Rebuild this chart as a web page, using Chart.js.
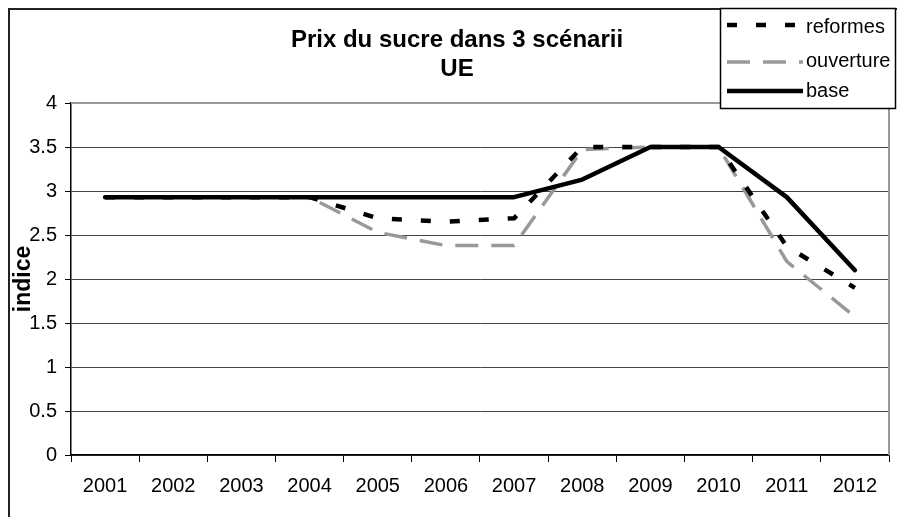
<!DOCTYPE html>
<html>
<head>
<meta charset="utf-8">
<script src="https://cdn.jsdelivr.net/npm/chart.js@4.4.0/dist/chart.umd.min.js"></script>
<style>
  html, body { margin: 0; padding: 0; background: #fff; }
</style>
</head>
<body>
<canvas id="myChart" width="897" height="517"></canvas>
<script>
const years = ['2001', '2002', '2003', '2004', '2005', '2006', '2007', '2008', '2009', '2010', '2011', '2012'];
const reformes = [2.93, 2.93, 2.93, 2.93, 2.69, 2.65, 2.69, 3.5, 3.5, 3.5, 2.37, 1.9];
const ouverture = [2.93, 2.93, 2.93, 2.93, 2.53, 2.38, 2.38, 3.47, 3.5, 3.5, 2.2, 1.57];
const base = [2.93, 2.93, 2.93, 2.93, 2.93, 2.93, 2.93, 3.13, 3.5, 3.5, 2.93, 2.1];
const yTicks = [0, 0.5, 1, 1.5, 2, 2.5, 3, 3.5, 4];
const titleLines = ['Prix du sucre dans 3 scénarii', 'UE'];

const FONT = '"Liberation Sans", Arial, sans-serif';

// frame, plot border, title and boxed legend like the Excel original
const decor = {
    id: 'decor',
    beforeDraw(chart) {
        const c = chart.ctx;
        c.save();
        c.fillStyle = '#fff';
        c.fillRect(0, 0, chart.width, chart.height);
        c.strokeStyle = '#222';
        c.lineWidth = 2;
        c.beginPath();
        c.moveTo(9, chart.height + 5);
        c.lineTo(9, 9);
        c.lineTo(chart.width + 5, 9);
        c.stroke();
        c.restore();
    },
    beforeDatasetsDraw(chart) {
        const a = chart.chartArea;
        const c = chart.ctx;
        c.save();
        c.strokeStyle = '#999';
        c.lineWidth = 2;
        c.beginPath();
        c.moveTo(a.left, a.top);
        c.lineTo(a.right, a.top);
        c.lineTo(a.right, a.bottom);
        c.stroke();
        c.restore();
    },
    afterDraw(chart) {
        const c = chart.ctx;
        c.save();
        // title
        c.fillStyle = '#000';
        c.font = 'bold 24px ' + FONT;
        c.textAlign = 'center';
        c.textBaseline = 'alphabetic';
        c.fillText(titleLines[0], 457, 47);
        c.fillText(titleLines[1], 457, 76);

        // legend box
        c.fillStyle = '#fff';
        c.fillRect(720, 8, 176, 100);
        c.strokeStyle = '#000';
        c.lineWidth = 1.5;
        c.strokeRect(720.5, 8.5, 175, 100);

        const lineY = [25, 62, 91];
        const textY = [33, 67, 97];
        chart.data.datasets.forEach((ds, i) => {
            c.strokeStyle = ds.borderColor;
            c.lineWidth = ds.borderWidth;
            c.lineCap = 'butt';
            c.setLineDash(ds.borderDash || []);
            c.beginPath();
            c.moveTo(727, lineY[i]);
            c.lineTo(803, lineY[i]);
            c.stroke();
            c.setLineDash([]);
            c.fillStyle = '#000';
            c.font = '20px ' + FONT;
            c.textAlign = 'left';
            c.fillText(ds.label, 806, textY[i]);
        });
        c.restore();
    }
};

const ctx = document.getElementById('myChart');

new Chart(ctx, {
    type: 'line',
    data: {
        labels: years,
        datasets: [{
            label: 'reformes',
            data: reformes,
            borderColor: '#000',
            borderWidth: 4.5,
            borderDash: [10, 19],
            borderCapStyle: 'butt',
            pointRadius: 0,
            tension: 0,
            fill: false,
            order: 0
        }, {
            label: 'ouverture',
            data: ouverture,
            borderColor: '#999',
            borderWidth: 3.5,
            borderDash: [23, 13],
            borderCapStyle: 'butt',
            pointRadius: 0,
            tension: 0,
            fill: false,
            order: 2
        }, {
            label: 'base',
            data: base,
            borderColor: '#000',
            borderWidth: 4.5,
            borderJoinStyle: 'round',
            borderCapStyle: 'round',
            pointRadius: 0,
            tension: 0,
            fill: false,
            order: 1
        }]
    },
    options: {
        responsive: false,
        animation: false,
        layout: { padding: { top: 103, right: 8, left: 0, bottom: 0 } },
        plugins: {
            legend: { display: false },
            title: { display: false },
            tooltip: { enabled: false }
        },
        scales: {
            x: {
                offset: true,
                afterFit(s) { s.height = 62; },
                grid: { offset: true, drawOnChartArea: false, tickLength: 7, color: '#000' },
                border: { color: '#000', width: 1.5 },
                ticks: {
                    color: '#000',
                    font: { family: FONT, size: 20 },
                    padding: 12,
                    maxRotation: 0,
                    autoSkip: false
                }
            },
            y: {
                min: 0,
                max: 4,
                afterFit(s) { s.width = 71; },
                afterBuildTicks(s) { s.ticks = yTicks.map(v => ({ value: v })); },
                grid: { color: '#444', lineWidth: 1, tickLength: 6, tickColor: '#000' },
                border: { color: '#000', width: 1.5 },
                ticks: {
                    color: '#000',
                    font: { family: FONT, size: 20 },
                    padding: 8,
                    callback: v => String(v)
                },
                title: {
                    display: true,
                    text: 'indice',
                    color: '#000',
                    font: { family: FONT, size: 23, weight: 'bold' },
                    padding: { top: 10, bottom: 0 }
                }
            }
        }
    },
    plugins: [decor]
});
</script>
</body>
</html>
